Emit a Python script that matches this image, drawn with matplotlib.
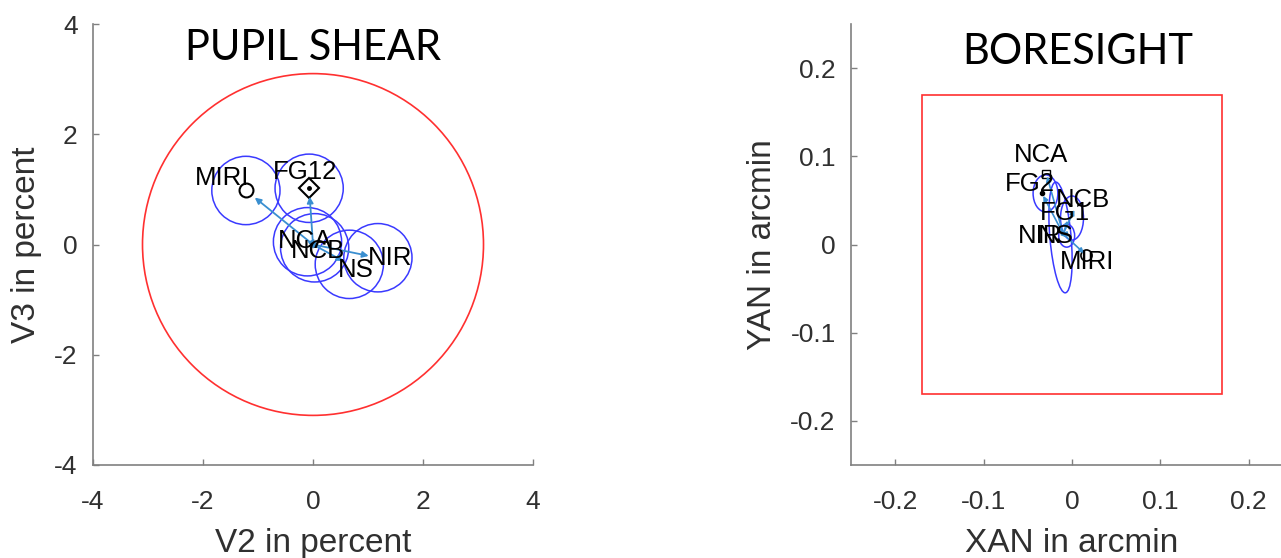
import matplotlib
matplotlib.use('Agg')
import matplotlib.pyplot as plt
import numpy as np
from matplotlib.patches import Circle, Ellipse, Rectangle

plt.rcParams['font.family'] = ['Liberation Sans', 'DejaVu Sans']
plt.rcParams['axes.unicode_minus'] = False

# pupil shear: component positions (percent)
ps_names = ['MIRI', 'FG12', 'NCA', 'NCB', 'NS', 'NIR']
ps_v2 = [-1.22, -0.07, -0.10, 0.03, 0.66, 1.18]
ps_v3 = [0.98, 1.02, 0.05, -0.06, -0.36, -0.24]
ps_text_xy = [(-1.65, 1.20), (-0.15, 1.31), (-0.15, 0.07), (0.09, -0.11), (0.78, -0.47), (1.40, -0.25)]
ps_radius = 0.62
ps_limit = 3.1

# boresight: component positions (arcmin)
bs_names = ['NCA', 'FG2', 'NCB', 'FG1', 'NIR', 'NS', 'MIRI']
bs_xan = [-0.029, -0.034, 0.004, -0.004, -0.012, -0.006, 0.016]
bs_yan = [0.080, 0.058, 0.042, 0.030, 0.012, 0.008, -0.012]
bs_text_xy = [(-0.035, 0.101), (-0.048, 0.069), (0.012, 0.050), (-0.008, 0.036),
              (-0.036, 0.010), (-0.018, 0.010), (0.017, -0.020)]
bs_ell = [(-0.030, 0.058, 0.028, 0.042, 0), (-0.013, 0.008, 0.024, 0.126, 5),
          (0.000, 0.030, 0.026, 0.050, 0), (-0.006, 0.010, 0.018, 0.026, 0)]
bs_origin = (-0.010, 0.012)
bs_limit = 0.17

arrow_col = '#3a8fd0'
tick_col = '#303030'


def style_axes(ax):
    for s in ['top', 'right']:
        ax.spines[s].set_visible(False)
    for s in ['left', 'bottom']:
        ax.spines[s].set_color('#808080')
        ax.spines[s].set_linewidth(1.2)
    ax.tick_params(direction='in', length=4, width=1, colors='#808080',
                   labelcolor=tick_col, labelsize=19)
    ax.tick_params(axis='x', pad=18)
    ax.tick_params(axis='y', pad=11)


fig = plt.figure(figsize=(12.81, 5.58), dpi=100)

# ---- pupil shear ----
ax1 = fig.add_axes([93 / 1281, 93 / 558, 440 / 1281, 441 / 558])
ax1.add_patch(Circle((0, 0), ps_limit, fill=False, ec='#ff3030', lw=1.2))
for x, y in zip(ps_v2, ps_v3):
    ax1.add_patch(Circle((x, y), ps_radius, fill=False, ec='#3a3aff', lw=1.1))
    ax1.annotate('', xy=(0.9 * x, 0.9 * y), xytext=(0, 0),
                 arrowprops=dict(arrowstyle='-|>', color=arrow_col, lw=1.3, mutation_scale=9))
ax1.plot(ps_v2[0], ps_v3[0], 'o', mfc='none', mec='k', ms=10, mew=1.5)
ax1.plot(ps_v2[1], ps_v3[1], 'D', mfc='none', mec='k', ms=10, mew=1.5)
ax1.plot(ps_v2[1], ps_v3[1], '.', color='k', ms=5)
for name, (tx, ty) in zip(ps_names, ps_text_xy):
    ax1.text(tx, ty, name, fontsize=18.5, ha='center', va='center', color='k')
ax1.text(0, 3.57, 'PUPIL SHEAR', family=['Lato', 'DejaVu Sans'], fontsize=30,
         ha='center', va='center')
ax1.set_xlim(-4, 4)
ax1.set_ylim(-4, 4)
ax1.set_xticks([-4, -2, 0, 2, 4])
ax1.set_yticks([-4, -2, 0, 2, 4])
style_axes(ax1)
ax1.set_xlabel('V2 in percent', fontsize=24, color=tick_col, labelpad=10)
ax1.set_ylabel('V3 in percent', fontsize=24, color=tick_col, labelpad=9)

# ---- boresight ----
ax2 = fig.add_axes([851 / 1281, 93 / 558, 442 / 1281, 441 / 558])
ax2.add_patch(Rectangle((-bs_limit, -bs_limit), 2 * bs_limit, 2 * bs_limit,
                        fill=False, ec='#ff3030', lw=1.2))
for cx, cy, w, h, a in bs_ell:
    ax2.add_patch(Ellipse((cx, cy), w, h, angle=a, fill=False, ec='#3a3aff', lw=1.1))
for x, y in zip(bs_xan, bs_yan):
    ax2.annotate('', xy=(x, y), xytext=bs_origin,
                 arrowprops=dict(arrowstyle='-|>', color=arrow_col, lw=1.2, mutation_scale=7))
ax2.plot(bs_xan[0], bs_yan[0], 's', mfc='none', mec='k', ms=6, mew=1)
ax2.plot(bs_xan[1], bs_yan[1], '.', color='k', ms=6)
ax2.plot(bs_xan[6], bs_yan[6], 'o', mfc='none', mec='k', ms=8, mew=1.2)
for name, (tx, ty) in zip(bs_names, bs_text_xy):
    ax2.text(tx, ty, name, fontsize=18.5, ha='center', va='center', color='k')
ax2.text(0.007, 0.218, 'BORESIGHT', family=['Lato', 'DejaVu Sans'], fontsize=30,
         ha='center', va='center')
ax2.set_xlim(-0.25, 0.25)
ax2.set_ylim(-0.25, 0.25)
ax2.set_xticks([-0.2, -0.1, 0, 0.1, 0.2])
ax2.set_xticklabels(['-0.2', '-0.1', '0', '0.1', '0.2'])
ax2.set_yticks([-0.2, -0.1, 0, 0.1, 0.2])
ax2.set_yticklabels(['-0.2', '-0.1', '0', '0.1', '0.2'])
style_axes(ax2)
ax2.set_xlabel('XAN in arcmin', fontsize=24, color=tick_col, labelpad=10)
ax2.set_ylabel('YAN in arcmin', fontsize=24, color=tick_col, labelpad=9)

fig.savefig('out.png', dpi=100)
